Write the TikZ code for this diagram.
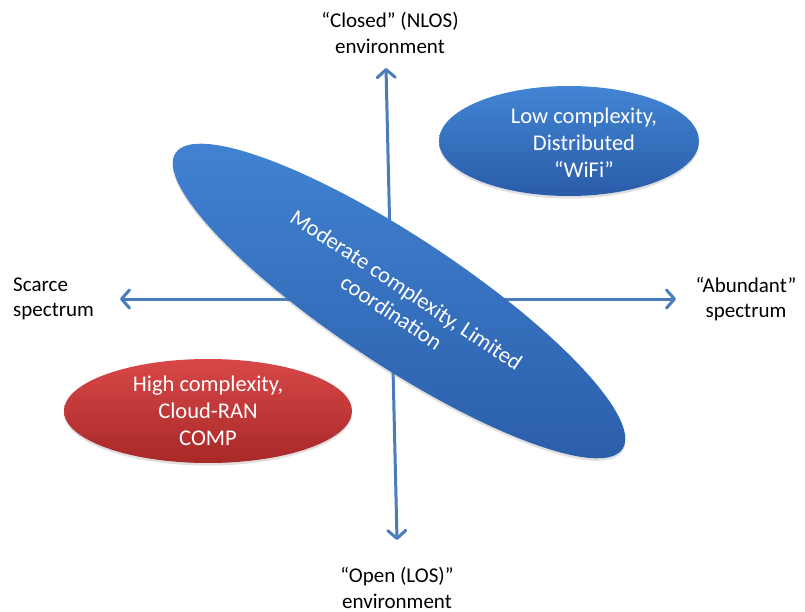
\documentclass[tikz,border=0pt]{standalone}
\usepackage{fontspec}
\setmainfont{Carlito}
\usetikzlibrary{arrows.meta,shapes.geometric,shadows}
\definecolor{axisblue}{RGB}{74,126,187}
\definecolor{bluetop}{RGB}{66,133,212}
\definecolor{bluebot}{RGB}{42,92,168}
\definecolor{redtop}{RGB}{216,72,72}
\definecolor{redbot}{RGB}{168,40,40}
\begin{document}
\begin{tikzpicture}[x=1pt,y=-1pt,
  axis/.style={draw=axisblue, line width=3pt,
    {Straight Barb[length=8pt,width=18pt,round]}-{Straight Barb[length=8pt,width=18pt,round]}},
  lbl/.style={font=\fontsize{21}{25.5}\selectfont, align=center, inner sep=0pt},
  blob/.style={ellipse, inner sep=0pt, font=\fontsize{22.5}{27}\selectfont, text=white, align=center,
    drop shadow={opacity=0.25, shadow xshift=0pt, shadow yshift=-2.5pt}},
  blueblob/.style={blob, top color=bluetop, bottom color=bluebot},
  redblob/.style={blob, top color=redtop, bottom color=redbot},
  wtext/.style={font=\fontsize{22.5}{27}\selectfont, text=white, align=center, inner sep=0pt}]
\path[use as bounding box] (0,0) rectangle (805,612);
% axis ends
\coordinate (atop) at (386,68);
\coordinate (abot) at (397,540);
\coordinate (aleft) at (120,299);
\coordinate (aright) at (676,299);
\draw[axis] (abot) -- (atop);
\draw[axis] (aleft) -- (aright);
% labels
\node[lbl] (ltop) at (390,33) {“Closed” (NLOS)\\environment};
\node[lbl] (lbot) at (397,588) {“Open (LOS)”\\environment};
\node[lbl, anchor=west, align=left] (lleft) at (13,299) {Scarce\\spectrum};
\node[lbl] (lright) at (746,299) {“Abundant”\\spectrum};
% ellipses
\node[redblob, minimum width=288pt, minimum height=104pt] (high) at (208,411)
  {High complexity,\\Cloud-RAN\\COMP};
\node[blueblob, minimum width=260pt, minimum height=110pt] (low) at (569,141) {};
\node[wtext] (lowt) at (584,143) {Low complexity,\\Distributed\\“WiFi”};
\node[blueblob, minimum width=536pt, minimum height=128pt, rotate=-33.5] (mod) at (399,301)
  {Moderate complexity, Limited\\coordination};
\end{tikzpicture}
\end{document}
